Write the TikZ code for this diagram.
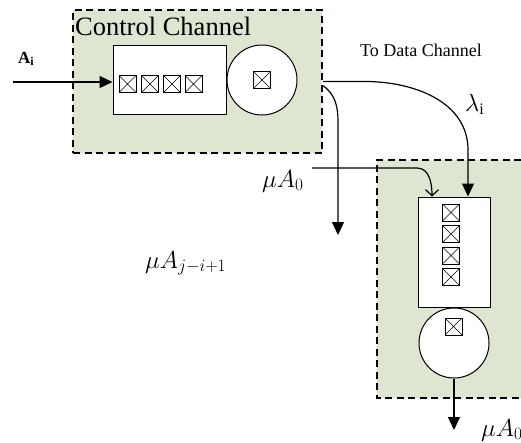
\documentclass[tikz,border=0pt]{standalone}
\usepackage{fontspec}
\setmainfont{Liberation Serif}
\usetikzlibrary{arrows.meta,positioning}

\definecolor{chanfill}{rgb}{0.870,0.902,0.820}
\tikzset{
  chanline/.style={draw=black, line width=1.5pt, dash pattern=on 7pt off 4.5pt},
  chanbox/.style={fill=chanfill, chanline, inner sep=0pt},
  queuebox/.style={draw, fill=white, line width=1pt, inner sep=0pt},
  server/.style={draw, fill=white, circle, line width=1pt, minimum size=70pt, inner sep=0pt},
  packet/.style={draw, line width=0.8pt, minimum size=17pt, inner sep=0pt,
    path picture={\draw[line width=0.6pt]
      (path picture bounding box.north west) -- (path picture bounding box.south east)
      (path picture bounding box.north east) -- (path picture bounding box.south west);}},
  flow/.style={line width=1.2pt, -{Triangle[length=13pt,width=12pt]}},
  feed/.style={line width=1.2pt, -{Straight Barb[length=6pt,width=13pt]}},
  lbl/.style={inner sep=0pt, anchor=base west},
}

\begin{document}
\begin{tikzpicture}[x=1pt,y=-1pt]
\useasboundingbox (0,0) rectangle (521,442);
% control channel
\node[chanbox, minimum width=249pt, minimum height=143pt] (ctrl) at (197.5,81.5) {};
\node[lbl, font=\fontsize{26.5}{28}\selectfont] (ctrltxt) at (75,35) {Control Channel};
\node[queuebox, minimum width=113pt, minimum height=69pt] (cqueue) at (169.5,79.5) {};
\foreach \x [count=\k] in {127.5,150,172,193.5}
  \node[packet] (cp\k) at (\x,84) {};
\node[server] (cserver) at (262,80) {};
\node[packet] (cs) at (cserver.center) {};

% data channel
\node[fill=chanfill, minimum width=144pt, minimum height=238pt, inner sep=0pt] (dchan) at (449,279) {};
\draw[chanline] (dchan.north east) -- (dchan.north west) -- (dchan.south west) -- (dchan.south east);
\node[queuebox, minimum width=72pt, minimum height=110pt] (dqueue) at (454,252) {};
\foreach \y [count=\k] in {212.5,234,255.5,277}
  \node[packet] (dp\k) at (451,\y) {};
\node[server] (dserver) at (454,343) {};
\node[packet] (ds) at (453.5,326.5) {};

% labels
\node[lbl, font=\fontsize{18}{20}\selectfont] (todata) at (360,56) {To Data Channel};
\node[lbl, font=\fontsize{17}{19}\selectfont\bfseries] (ai) at (18,63) {A\textsubscript{i}};
\node[lbl, font=\fontsize{23}{25}\selectfont] (lam) at (465,111) {$\lambda_{\mathrm{i}}$};
\node[lbl, font=\fontsize{24}{26}\selectfont] (mu0) at (262,187) {$\mu A_0$};
\node[lbl, font=\fontsize{26}{28}\selectfont] (muj) at (145,268) {$\mu A_{j-i+1}$};
\node[lbl, font=\fontsize{24}{26}\selectfont] (muout) at (481,436) {$\mu A_0$};

% connectors
\coordinate (ain) at (13,82);
\draw[flow] (ain) -- (ain -| cqueue.west);
\coordinate (lamturn) at (468,150);
\draw[flow] (ctrl.east) -- (365,81.5) to[out=0,in=90] (lamturn) -- (lamturn |- dqueue.north);
\coordinate (lossturn) at (338,122);
\coordinate (lossend) at (338,235);
\draw[flow] ([yshift=-4pt]ctrl.east) to[out=-35,in=90] (lossturn) -- (lossend);
\coordinate (fbstart) at (312,168);
\coordinate (fbend) at (432,168);
\draw[feed] (fbstart) -- (417,168) to[out=0,in=90] (fbend |- dqueue.north);
\coordinate (dout) at (454,430);
\draw[flow] (dserver.south) -- (dout);
\end{tikzpicture}
\end{document}
